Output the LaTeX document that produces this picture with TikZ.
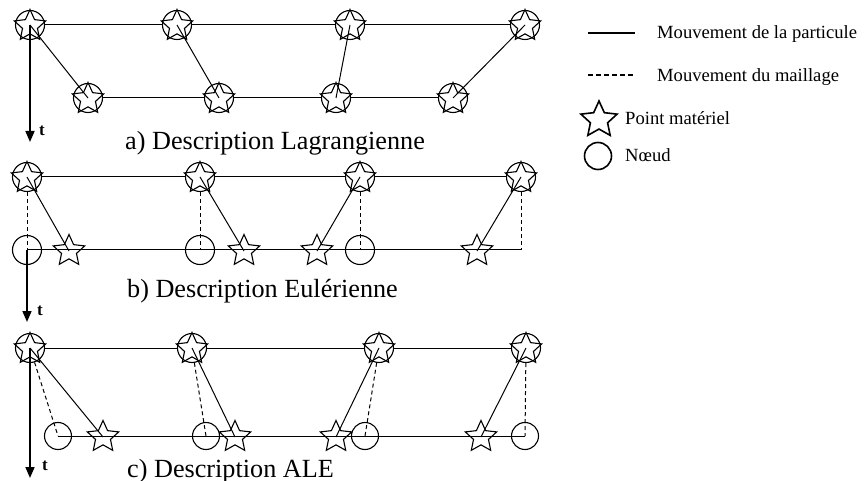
\documentclass[tikz,border=0pt]{standalone}
\usepackage{fontspec}
\setmainfont{Liberation Serif}
\usetikzlibrary{shapes.geometric,arrows.meta}
\begin{document}
\begin{tikzpicture}[x=1pt,y=-1pt,
  noeud/.style={circle,draw,line width=1.1pt,minimum size=29pt,inner sep=0pt},
  etoile/.style={star,star points=5,star point ratio=2.1,draw,line width=1.1pt,minimum size=33pt,inner sep=0pt},
  mv/.style={line width=1pt},
  ml/.style={line width=1pt,dash pattern=on 4pt off 3pt},
  temps/.style={line width=1.6pt,-{Triangle[width=9pt,length=11pt]}},
  tlab/.style={font=\fontsize{17}{17}\selectfont\bfseries,anchor=west,inner sep=0pt},
  legende/.style={font=\fontsize{26.2}{30}\selectfont,anchor=base west,inner sep=0pt},
  leg/.style={font=\fontsize{18.6}{22}\selectfont,anchor=base west,inner sep=0pt}]
\useasboundingbox (0,0) rectangle (865,481);
% ---------- a) Lagrangian
\foreach \n/\x/\y in {A1/30/25,A2/177/25,A3/350/25,A4/525/25,B1/88/98,B2/219/98,B3/336/98,B4/453/98}{
  \node[noeud] (\n) at (\x,\y) {};
  \node[etoile] (s\n) at (\x,\y+1) {};
}
\draw[mv] (A1) -- (A2) -- (A3) -- (A4);
\draw[mv] (B1) -- (B2) -- (B3) -- (B4);
\foreach \i in {1,...,4}{\draw[mv] (A\i.center) -- (B\i.center);}
\coordinate (ta) at (30,142);
\draw[temps] (A1.center) -- (ta);
\node[tlab] (tA) at (39,131) {t};
\node[legende] (capA) at (125,150) {a) Description Lagrangienne};
% ---------- b) Eulerian
\foreach \n/\x in {C1/27,C2/200,C3/360,C4/521}{
  \node[noeud] (\n) at (\x,177) {};
  \node[etoile] (s\n) at (\x,178) {};
}
\foreach \n/\x in {D1/27,D2/200,D3/360}{\node[noeud] (\n) at (\x,250) {};}
\coordinate (D4) at (521,250);
\foreach \n/\x in {E1/69,E2/244,E3/317,E4/477}{\node[etoile] (\n) at (\x,251) {};}
\draw[mv] (C1) -- (C2) -- (C3) -- (C4);
\draw[mv] (D1.center) -- (D4);
\foreach \i in {1,...,3}{\draw[ml] (C\i) -- (D\i.center);}
\draw[ml] (C4) -- (D4);
\foreach \i in {1,...,4}{\draw[mv] (C\i.center) -- (E\i.center);}
\coordinate (tb) at (27,322);
\draw[temps] (D1.center) -- (tb);
\node[tlab] (tB) at (37,311) {t};
\node[legende] (capB) at (127,298) {b) Description Eulérienne};
% ---------- c) ALE
\foreach \n/\x in {F1/30,F2/192,F3/379,F4/526}{
  \node[noeud] (\n) at (\x,348) {};
  \node[etoile] (s\n) at (\x,349) {};
}
\foreach \n/\x in {G1/58,G2/206,G3/365,G4/525}{\node[noeud,minimum size=27pt] (\n) at (\x,436) {};}
\foreach \n/\x in {H1/103,H2/235,H3/336,H4/481}{\node[etoile] (\n) at (\x,437) {};}
\draw[mv] (F1) -- (F2) -- (F3) -- (F4);
\draw[mv] (G1.center) -- (G4.center);
\foreach \i in {1,...,4}{\draw[ml] (F\i) -- (G\i.center);}
\foreach \i in {1,...,4}{\draw[mv] (F\i.center) -- (H\i.center);}
\coordinate (tc) at (30,478);
\draw[temps] (F1.center) -- (tc);
\node[tlab] (tC) at (42,466) {t};
\node[legende] (capC) at (127,477) {c) Description ALE};
% ---------- legend
\coordinate (l1a) at (588,33); \coordinate (l1b) at (635,33);
\draw[line width=1.8pt] (l1a) -- (l1b);
\node[leg] (L1) at (657,39) {Mouvement de la particule};
\coordinate (l2a) at (588,75); \coordinate (l2b) at (635,75);
\draw[line width=1.4pt,dash pattern=on 5pt off 3pt] (l2a) -- (l2b);
\node[leg] (L2) at (657,82) {Mouvement du maillage};
\node[star,star points=5,star point ratio=2.1,draw,line width=1.6pt,minimum size=38pt,inner sep=0pt] (Ls) at (599,120) {};
\node[leg] (L3) at (625,125) {Point matériel};
\node[circle,draw,line width=1.6pt,minimum size=27pt,inner sep=0pt] (Lc) at (598,156) {};
\node[leg] (L4) at (625,162) {Nœud};
\end{tikzpicture}
\end{document}
